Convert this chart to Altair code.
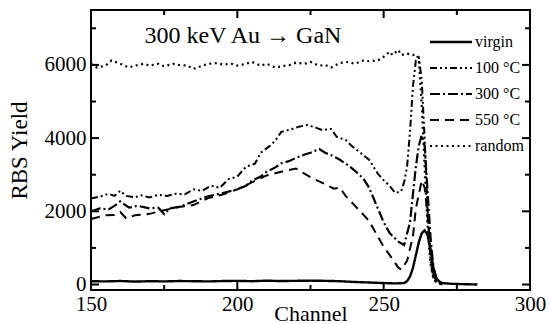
import altair as alt
import pandas as pd

# ---------------- data ----------------
virgin_ch = [150, 155, 160, 165, 170, 175, 180, 185, 190, 195, 200, 205, 210, 215, 220, 225, 230, 235, 240, 245,
             250, 254, 257, 258, 259, 260, 261, 262, 263, 264, 265, 266, 267, 268, 269, 270, 273, 277, 282]
virgin_y = [90, 85, 95, 80, 90, 85, 95, 90, 85, 95, 100, 90, 105, 95, 100, 105, 100, 90, 70, 55,
            40, 30, 40, 90, 220, 450, 800, 1150, 1400, 1480, 1350, 950, 450, 180, 80, 40, 20, 10, 0]

c100_ch = [150, 153, 156, 158, 160, 162, 165, 167, 170, 173, 176, 179, 182, 185, 188, 191, 194, 197, 200, 203,
           206, 208, 211, 213, 215, 218, 221, 224, 227, 229, 232, 234, 237, 239, 242, 245, 248, 250, 252, 254,
           256, 257, 258, 259, 260, 261, 262, 263, 264, 265, 266, 267, 268, 270]
c100_y = [2350, 2400, 2480, 2420, 2560, 2420, 2380, 2440, 2380, 2450, 2420, 2480, 2460, 2600, 2560, 2700, 2640, 2880, 2950, 3220,
          3300, 3600, 3780, 3930, 4170, 4230, 4310, 4360, 4280, 4220, 4250, 4030, 3950, 3790, 3600, 3410, 3030, 2850, 2700, 2500,
          2550, 2800, 3220, 4170, 5410, 6120, 6200, 5600, 3980, 2080, 650, 170, 60, 0]

c300_ch = [150, 153, 156, 158, 160, 163, 166, 170, 173, 175, 177, 180, 185, 190, 195, 200, 203, 205, 208, 210,
           213, 215, 218, 220, 223, 225, 228, 230, 233, 235, 238, 240, 243, 245, 248, 250, 252, 255, 257, 259,
           260, 261, 262, 263, 264, 265, 266, 267, 268, 270]
c300_y = [2000, 2080, 2050, 2150, 2270, 2100, 2150, 2080, 2100, 1920, 2080, 2120, 2270, 2410, 2500, 2600, 2700, 2840, 2950, 3080,
          3200, 3310, 3380, 3460, 3550, 3600, 3700, 3600, 3500, 3410, 3250, 3120, 2900, 2650, 2080, 1700, 1410, 1170, 1080, 1700,
          2460, 3220, 3790, 4080, 3790, 2550, 1310, 460, 150, 0]

c550_ch = [150, 153, 155, 158, 160, 162, 165, 170, 175, 180, 185, 190, 195, 200, 205, 210, 215, 220, 225, 230,
           233, 235, 237, 240, 245, 248, 250, 253, 255, 256, 258, 260, 261, 262, 263, 264, 265, 266, 267, 268, 270]
c550_y = [1790, 1850, 1890, 1900, 1980, 1810, 1890, 1930, 2030, 2120, 2170, 2360, 2460, 2600, 2790, 2980, 3080, 3170, 2930, 2740,
          2620, 2650, 2420, 2170, 1740, 1310, 1030, 700, 460, 410, 650, 1310, 2080, 2460, 2840, 2650, 1890, 930, 270, 100, 0]

random_ch = [150, 152, 155, 157, 160, 163, 165, 168, 170, 173, 175, 178, 180, 183, 185, 188, 190, 193, 195, 198,
             200, 203, 205, 208, 210, 213, 215, 218, 220, 223, 225, 228, 230, 232, 235, 238, 240, 243, 245, 248,
             250, 252, 253, 255, 256, 258, 260, 261, 262, 263, 264, 265, 266, 267, 268, 270]
random_y = [6030, 5930, 5980, 6120, 6030, 5930, 5980, 6030, 5980, 6030, 5960, 6030, 6000, 5980, 5890, 5980, 6030, 6050, 6010, 6030,
            5980, 6030, 6080, 5980, 6030, 5930, 5960, 6000, 6060, 6030, 6080, 5980, 6000, 5930, 6050, 6080, 6030, 6120, 6100, 6120,
            6220, 6360, 6270, 6410, 6270, 6310, 6270, 6290, 6170, 4930, 3220, 1600, 550, 170, 60, 10]

series_names = ["virgin", "100 °C", "300 °C", "550 °C", "random"]
series_dash = [[1, 0], [7, 3, 2, 3, 2, 3], [10, 3, 2, 3], [9, 6], [2, 3.5]]
series_width = [2.4, 2.0, 2.2, 2.0, 2.2]
series_data = [(virgin_ch, virgin_y), (c100_ch, c100_y), (c300_ch, c300_y),
               (c550_ch, c550_y), (random_ch, random_y)]

x_major = [150, 200, 250, 300]
x_minor = [175, 225, 275]
y_major = [0, 2000, 4000, 6000]
y_minor = [1000, 3000, 5000, 7000]

title_text = "300 keV Au  →  GaN"

# ---------------- chart ----------------
W, H = 439, 280
FONT = "Liberation Serif"
xscale = alt.Scale(domain=[150, 300], nice=False, zero=False)
yscale = alt.Scale(domain=[-150, 7500], nice=False, zero=False)

layers = []
for name, (chs, vals), dash, sw in zip(series_names, series_data, series_dash, series_width):
    df = pd.DataFrame({"channel": chs, "yield": vals})
    layers.append(
        alt.Chart(df).mark_line(color="black", strokeWidth=sw, strokeDash=dash, clip=True).encode(
            x=alt.X("channel:Q", scale=xscale,
                    axis=alt.Axis(values=x_major, format="d", ticks=False, labelFontSize=21, labelFont=FONT,
                                  labelColor="black", title="Channel", titleFont=FONT, titleFontSize=22,
                                  titleFontWeight="normal", titleColor="black", titleBaseline="middle", titleY=23,
                                  labelPadding=3, domain=False, grid=False, labelFlush=False)),
            y=alt.Y("yield:Q", scale=yscale,
                    axis=alt.Axis(values=y_major, format="d", ticks=False, labelFontSize=21, labelFont=FONT,
                                  labelColor="black", title="RBS Yield", titleFont=FONT, titleFontSize=23,
                                  titleFontWeight="normal", titleColor="black", titlePadding=13,
                                  labelPadding=5, domain=False, grid=False, labelFlush=False)),
        )
    )

# inward ticks drawn as rules through the same scales
def xticks(vals, length):
    d = pd.DataFrame({"v": vals})
    bot = alt.Chart(d).mark_rule(color="black", strokeWidth=2).encode(
        x=alt.X("v:Q", scale=xscale), y=alt.value(H), y2=alt.value(H - length))
    top = alt.Chart(d).mark_rule(color="black", strokeWidth=2).encode(
        x=alt.X("v:Q", scale=xscale), y=alt.value(0), y2=alt.value(length))
    return [bot, top]

def yticks(vals, length):
    d = pd.DataFrame({"v": vals})
    left = alt.Chart(d).mark_rule(color="black", strokeWidth=2).encode(
        y=alt.Y("v:Q", scale=yscale), x=alt.value(0), x2=alt.value(length))
    right = alt.Chart(d).mark_rule(color="black", strokeWidth=2).encode(
        y=alt.Y("v:Q", scale=yscale), x=alt.value(W), x2=alt.value(W - length))
    return [left, right]

layers += xticks(x_major, 8) + xticks(x_minor, 5) + yticks(y_major, 8) + yticks(y_minor, 5)

# annotation
layers.append(
    alt.Chart(pd.DataFrame({"t": [title_text]})).mark_text(
        font=FONT, fontSize=24, color="black", align="center", baseline="middle").encode(
        text="t:N", x=alt.value(152), y=alt.value(26))
)

# legend
for i, (name, dash, sw) in enumerate(zip(series_names, series_dash, series_width)):
    yy = 32 + i * 26
    layers.append(
        alt.Chart(pd.DataFrame({"n": [name]})).mark_rule(color="black", strokeWidth=sw, strokeDash=dash).encode(
            x=alt.value(339), x2=alt.value(381), y=alt.value(yy))
    )
    layers.append(
        alt.Chart(pd.DataFrame({"n": [name]})).mark_text(
            font=FONT, fontSize=16, color="black", align="left", baseline="middle").encode(
            text="n:N", x=alt.value(384), y=alt.value(yy))
    )

chart = alt.layer(*layers).properties(
    width=W, height=H,
    padding={"left": 91, "top": 10, "right": 20, "bottom": 34},
    autosize=alt.AutoSizeParams(type="none"),
    background="white",
).configure_view(stroke="black", strokeWidth=2)

chart.save("out.html", embed_options={"renderer": "svg", "actions": False})
